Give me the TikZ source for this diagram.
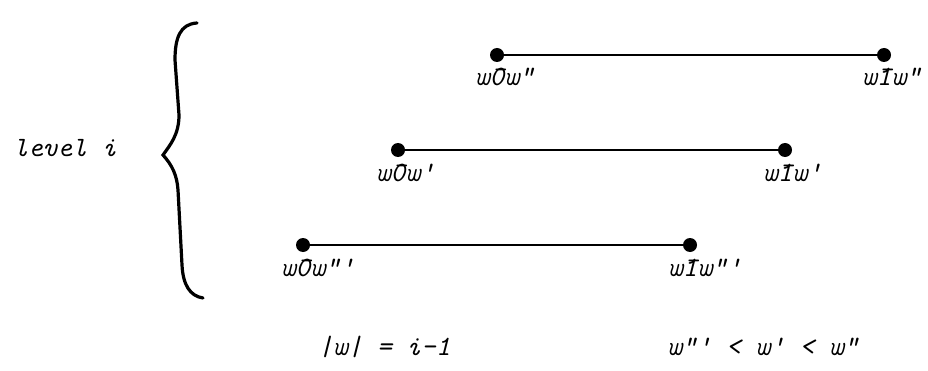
\documentclass[tikz,border=0pt]{standalone}
\usetikzlibrary{positioning}
\newcommand{\tw}{\fontsize{28}{32}\selectfont\ttfamily\itshape}

\begin{document}
\begin{tikzpicture}[x=1pt,y=1pt,
  endpt/.style={circle,fill,inner sep=0pt,minimum size=14pt},
  lbl/.style={anchor=base,font=\tw,inner sep=0pt,yshift=-31pt},
  txt/.style={font=\tw,inner sep=0pt}]
\useasboundingbox (0,0) rectangle (928,370);
% three segments of level i
\foreach \n/\x/\y/\p in {a/497/315/{"},b/398/220/{'},c/303/125/{"'}} {
  \node[endpt] (\n0) at (\x,\y) {};
  \node[endpt] (\n1) at (\x+387,\y) {};
  \draw[line width=2.2pt] (\n0) -- (\n1);
  \node[lbl] (\n0l) at (\n0) {\llap{w}\={0}\rlap{w\p}};
  \node[lbl] (\n1l) at (\n1) {\llap{w}\={1}\rlap{w\p}};
}
% brace
\draw[line width=3.2pt,line cap=round] (197,347) .. controls (180,346) and (175,332) .. (175,310)
  -- (179,255) .. controls (179,235) and (170,225) .. (163,215)
  .. controls (172,205) and (177,195) .. (178,180)
  -- (182,105) .. controls (183,85) and (190,74) .. (203,72);
\node[txt] (level) at (65,222) {level i};
\node[txt,anchor=base west] (len) at (318,15) {|w| = i-1};
\node[txt,anchor=base west] (order) at (667,15) {w"' < w' < w"};
\end{tikzpicture}
\end{document}
